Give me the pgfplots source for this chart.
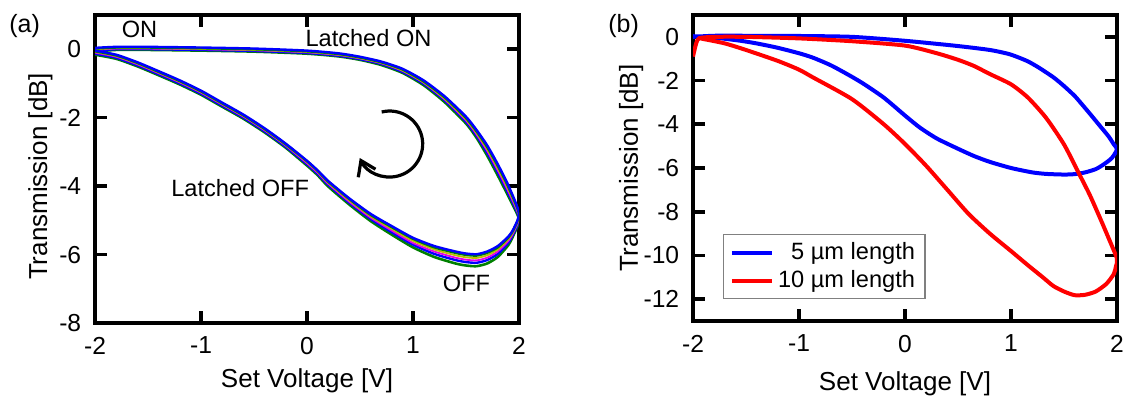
\documentclass[border=0pt]{standalone}
\usepackage{fontspec}
\setmainfont{Liberation Sans}
\usepackage{pgfplots}
\pgfplotsset{compat=1.18}
\usepackage{pgfplotstable}
\usetikzlibrary{arrows.meta}

% Panel (a): six overlapping measured cycles
\pgfplotstableread{
x     g1     b1     m      yl     g2     b2
-2.00 -0.07  -0.04  -0.02  0.00   0.02   0.04
-1.80 -0.02  0.00   0.02   0.03   0.05   0.07
-1.50 -0.02  0.00   0.02   0.03   0.05   0.07
-1.00 -0.04  -0.02  0.00   0.01   0.03   0.05
-0.50 -0.07  -0.05  -0.03  -0.02  0.00   0.02
0.00  -0.13  -0.11  -0.09  -0.08  -0.06  -0.04
0.30  -0.21  -0.19  -0.17  -0.16  -0.14  -0.12
0.50  -0.31  -0.29  -0.27  -0.26  -0.24  -0.22
0.70  -0.46  -0.43  -0.41  -0.40  -0.38  -0.36
0.90  -0.69  -0.66  -0.63  -0.62  -0.59  -0.57
1.10  -1.05  -1.01  -0.98  -0.97  -0.94  -0.91
1.30  -1.55  -1.50  -1.47  -1.45  -1.41  -1.38
1.50  -2.17  -2.12  -2.08  -2.05  -2.01  -1.97
1.60  -2.59  -2.53  -2.49  -2.45  -2.40  -2.36
1.70  -3.11  -3.03  -2.97  -2.92  -2.86  -2.81
1.80  -3.69  -3.60  -3.54  -3.48  -3.41  -3.36
1.90  -4.30  -4.22  -4.16  -4.10  -4.03  -3.98
2.00  -4.97  -4.92  -4.89  -4.85  -4.81  -4.78
1.95  -5.42  -5.37  -5.34  -5.30  -5.26  -5.24
1.90  -5.72  -5.65  -5.60  -5.55  -5.50  -5.47
1.80  -6.07  -5.98  -5.91  -5.85  -5.79  -5.75
1.70  -6.26  -6.16  -6.09  -6.02  -5.95  -5.91
1.60  -6.34  -6.24  -6.17  -6.10  -6.03  -5.99
1.50  -6.32  -6.22  -6.15  -6.08  -6.01  -5.97
1.40  -6.26  -6.16  -6.09  -6.02  -5.95  -5.91
1.20  -6.07  -5.98  -5.91  -5.85  -5.79  -5.75
1.00  -5.79  -5.71  -5.66  -5.60  -5.54  -5.51
0.80  -5.42  -5.35  -5.30  -5.25  -5.20  -5.17
0.60  -5.02  -4.96  -4.92  -4.88  -4.84  -4.81
0.40  -4.54  -4.49  -4.46  -4.42  -4.38  -4.36
0.20  -4.01  -3.96  -3.93  -3.90  -3.87  -3.85
0.10  -3.68  -3.64  -3.61  -3.58  -3.55  -3.54
0.00  -3.40  -3.36  -3.33  -3.30  -3.27  -3.26
-0.20 -2.88  -2.85  -2.82  -2.80  -2.78  -2.76
-0.40 -2.43  -2.40  -2.37  -2.35  -2.33  -2.31
-0.60 -2.03  -2.00  -1.97  -1.95  -1.93  -1.91
-0.80 -1.68  -1.65  -1.62  -1.60  -1.58  -1.56
-1.00 -1.33  -1.30  -1.27  -1.25  -1.23  -1.21
-1.20 -1.03  -1.00  -0.97  -0.95  -0.93  -0.91
-1.40 -0.76  -0.73  -0.70  -0.68  -0.66  -0.64
-1.60 -0.50  -0.47  -0.44  -0.42  -0.40  -0.38
-1.80 -0.28  -0.25  -0.22  -0.20  -0.18  -0.16
-2.00 -0.16  -0.13  -0.10  -0.08  -0.06  -0.04
}\dataA

% Panel (b): 5 um device
\pgfplotstableread{
x     y
-2.00 0.00
-1.80 0.05
-1.50 0.05
-1.00 0.04
-0.50 0.00
0.00  -0.18
0.48  -0.41
0.80  -0.60
0.99  -0.80
1.15  -1.10
1.26  -1.40
1.40  -1.85
1.50  -2.25
1.60  -2.70
1.67  -3.09
1.75  -3.55
1.84  -4.08
1.92  -4.55
1.97  -4.92
2.00  -5.15
1.95  -5.55
1.87  -5.85
1.80  -6.05
1.70  -6.20
1.60  -6.28
1.50  -6.30
1.33  -6.27
1.20  -6.20
1.00  -6.00
0.80  -5.72
0.65  -5.45
0.50  -5.12
0.30  -4.65
0.14  -4.15
0.00  -3.60
-0.20 -2.78
-0.40 -2.12
-0.54 -1.72
-0.70 -1.30
-0.87 -0.95
-1.00 -0.75
-1.21 -0.49
-1.40 -0.30
-1.55 -0.18
-1.75 -0.06
-1.89 0.00
-2.00 0.03
}\dataB

% Panel (b): 10 um device
\pgfplotstableread{
x     y
-2.00 -0.90
-1.97 -0.30
-1.94 -0.06
-1.80 0.00
-1.50 0.00
-1.00 -0.07
-0.50 -0.20
0.00  -0.40
0.30  -0.75
0.50  -1.05
0.65  -1.33
0.80  -1.70
1.00  -2.17
1.16  -2.78
1.33  -3.70
1.50  -4.92
1.63  -6.15
1.74  -7.20
1.84  -8.29
1.92  -9.20
2.00  -10.15
1.99  -10.50
1.97  -10.85
1.90  -11.30
1.80  -11.65
1.70  -11.80
1.60  -11.82
1.50  -11.65
1.40  -11.40
1.30  -11.00
1.16  -10.45
1.00  -9.80
0.80  -9.00
0.60  -8.10
0.40  -7.00
0.20  -5.90
0.00  -4.90
-0.20 -4.00
-0.50 -2.85
-0.87 -1.85
-1.00 -1.50
-1.20 -1.10
-1.50 -0.60
-1.70 -0.30
-1.90 -0.10
-1.95 -0.05
}\dataC

\definecolor{cgreen}{RGB}{0,128,0}
\definecolor{cblue}{RGB}{0,0,255}
\definecolor{cmag}{RGB}{230,0,230}
\definecolor{cyel}{RGB}{190,190,0}
\definecolor{cred}{RGB}{255,0,0}

\pgfplotsset{
  myaxis/.style={
    scale only axis, width=212pt,
    xmin=-2, xmax=2, xtick={-2,-1,0,1,2},
    axis line style={line width=1.8pt},
    every tick/.style={line width=1.8pt, black},
    major tick length=6pt, tick align=inside,
    ticklabel style={font=\fontsize{12.3}{14}\selectfont},
    /pgf/number format/assume math mode=true,
    xticklabel style={yshift=-3.4pt},
    yticklabel style={xshift=-3.4pt},
    label style={font=\fontsize{13}{15}\selectfont},
    xlabel={Set Voltage [V]},
    ylabel={Transmission [dB]},
  }
}

\begin{document}
\begin{tikzpicture}
\path[use as bounding box] (0,0) rectangle (563pt,198pt);

\node[anchor=base west, inner sep=0pt, font=\fontsize{12.5}{14}\selectfont] at (4.5pt,181.5pt) {(a)};
\node[anchor=base west, inner sep=0pt, font=\fontsize{12.5}{14}\selectfont] at (304pt,181.5pt) {(b)};

\begin{axis}[myaxis, at={(47.5pt,36.5pt)}, anchor=south west, height=154pt,
  ymin=-8, ymax=1, ytick={-8,-6,-4,-2,0},
  xlabel style={at={(axis description cs:0.5,-0.211)}, anchor=base},
  ylabel style={at={(axis description cs:-0.113,0.476)}, anchor=base}]
  \addplot[cgreen, line width=1.3pt, smooth, tension=0.4] table[x=x, y=g1] {\dataA};
  \addplot[cblue, line width=1.2pt, smooth, tension=0.4] table[x=x, y=b1] {\dataA};
  \addplot[cmag, line width=0.9pt, smooth, tension=0.4] table[x=x, y=m] {\dataA};
  \addplot[cyel, line width=0.9pt, smooth, tension=0.4] table[x=x, y=yl] {\dataA};
  \addplot[cgreen, line width=1.2pt, smooth, tension=0.4] table[x=x, y=g2] {\dataA};
  \addplot[cblue, line width=1.2pt, smooth, tension=0.4] table[x=x, y=b2] {\dataA};
  \node[anchor=base, font=\fontsize{11.8}{13}\selectfont] at (axis cs:-1.58,0.33) {ON};
  \node[anchor=base, font=\fontsize{11.8}{13}\selectfont] at (axis cs:0.58,0.07) {Latched ON};
  \node[anchor=base, font=\fontsize{11.8}{13}\selectfont] at (axis cs:-0.63,-4.29) {Latched OFF};
  \node[anchor=base, font=\fontsize{11.8}{13}\selectfont] at (axis cs:1.505,-7.08) {OFF};
  \draw[line width=1.6pt, -{Straight Barb[length=7pt, width=9.5pt]}]
    (axis cs:0.78,-2.77) ++(104:16.5pt) arc[start angle=104, end angle=-155, radius=16.5pt];
\end{axis}

\begin{axis}[myaxis, at={(346.5pt,37.5pt)}, anchor=south west, height=153pt,
  ymin=-13, ymax=1, ytick={-12,-10,-8,-6,-4,-2,0},
  xlabel style={at={(axis description cs:0.5,-0.227)}, anchor=base},
  ylabel style={at={(axis description cs:-0.13,0.5)}, anchor=base},
  legend style={at={(0.071,0.284)}, anchor=north west, draw=gray, line width=0.6pt,
    font=\fontsize{11.8}{13}\selectfont},
  legend cell align=left,
  legend image code/.code={\draw[#1, line width=2.2pt] (0pt,0pt) -- (20pt,0pt);}]
  \addplot[cblue, line width=2pt, smooth, tension=0.4] table[x=x, y=y] {\dataB};
  \addlegendentry{\phantom{1}5 µm length}
  \addplot[cred, line width=2pt, smooth, tension=0.4] table[x=x, y=y] {\dataC};
  \addlegendentry{10 µm length}
\end{axis}
\end{tikzpicture}
\end{document}
